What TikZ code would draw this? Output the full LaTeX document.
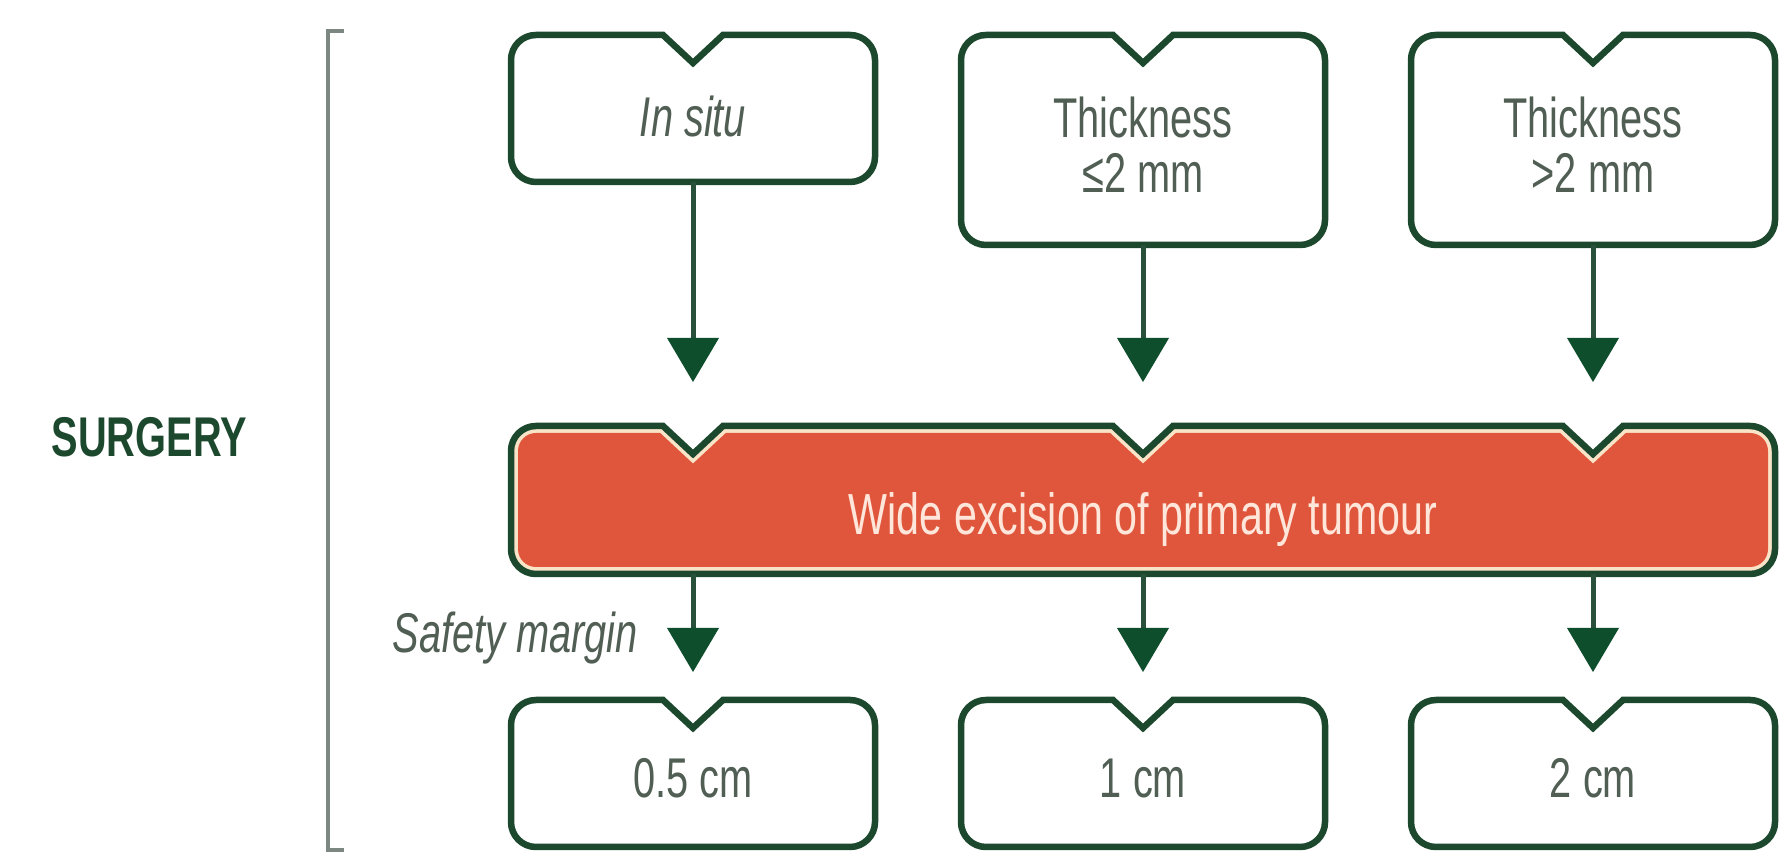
\documentclass[tikz,border=0pt]{standalone}
\usepackage{fontspec}
\setmainfont{Liberation Sans}[FakeStretch=0.71]
\usetikzlibrary{arrows.meta}
\definecolor{dgreen}{RGB}{28,72,45}
\definecolor{agreen}{RGB}{14,78,44}
\definecolor{stemc}{RGB}{40,80,58}
\definecolor{tgray}{RGB}{80,94,84}
\definecolor{redfill}{RGB}{224,86,60}
\definecolor{cream}{RGB}{250,228,200}
\definecolor{redtext}{RGB}{255,230,218}
\definecolor{brgray}{RGB}{125,135,130}
% notched rounded box path: L R T B radius halfwidth depth notches
\newcommand\nbpath[8]{(#1,#4+#5) -- (#1,#3-#5) arc[start angle=180,end angle=90,radius=#5pt]
  \foreach \nx in {#8} { -- (\nx-#6,#3) -- (\nx,#3-#7) -- (\nx+#6,#3) }
  -- (#2-#5,#3) arc[start angle=90,end angle=0,radius=#5pt]
  -- (#2,#4+#5) arc[start angle=0,end angle=-90,radius=#5pt]
  -- (#1+#5,#4) arc[start angle=-90,end angle=-180,radius=#5pt] -- cycle}
\tikzset{
  area/.style={draw=none, inner sep=0pt, outer sep=0pt, rectangle},
  boxline/.style={draw=dgreen, line width=6.5pt, fill=white, line join=miter},
  stem/.style={draw=stemc, line width=5pt, -{Triangle[width=52pt,length=44pt,line width=0pt,color=agreen]}},
  txt/.style={text=tgray, inner sep=0pt, font=\fontsize{56}{55}\selectfont},
  redtxt/.style={text=redtext, inner sep=0pt, font=\fontsize{58}{55}\selectfont},
  headtxt/.style={text=dgreen, inner sep=0pt, font=\fontsize{56}{55}\selectfont\bfseries},
  bracketline/.style={draw=brgray, line width=4pt},
}
\begin{document}
\begin{tikzpicture}[x=1pt,y=1pt]
\useasboundingbox (0,0) rectangle (1781,858);
\fill[white] (0,0) rectangle (1781,858);

% left label and bracket
\node[headtxt, anchor=base east] (surg) at (247,401) {SURGERY};
\draw[bracketline] (344,827) -- (328,827) -- (328,8) -- (344,8);

% top boxes
\draw[boxline] \nbpath{511}{875}{823}{676}{25}{30}{28}{693};
\draw[boxline] \nbpath{961}{1325}{823}{613}{25}{30}{28}{1143};
\draw[boxline] \nbpath{1411}{1775}{823}{613}{25}{30}{28}{1593};
\node[area, minimum width=364pt, minimum height=147pt] (b1) at (693,749.5) {};
\node[area, minimum width=364pt, minimum height=210pt] (b2) at (1143,718) {};
\node[area, minimum width=364pt, minimum height=210pt] (b3) at (1593,718) {};
\node[txt, anchor=base] (t1) at (693,721) {\itshape In situ};
\node[txt, align=center] (t2) at (1143,713) {Thickness\\≤2 mm};
\node[txt, align=center] (t3) at (1593,713) {Thickness\\>2 mm};

% central red box
\draw[draw=dgreen, line width=6.5pt, fill=cream, line join=miter] \nbpath{511}{1775}{432}{284}{25}{30}{28}{693,1143,1593};
\fill[redfill] \nbpath{518}{1768}{425}{291}{18}{32.8}{30.6}{693,1143,1593};
\node[area, minimum width=1264pt, minimum height=148pt] (rb) at (1143,358) {};
\node[redtxt, anchor=base] (rt) at (1143,323) {Wide excision of primary tumour};

% bottom boxes
\draw[boxline] \nbpath{511}{875}{158}{11}{25}{30}{28}{693};
\draw[boxline] \nbpath{961}{1325}{158}{11}{25}{30}{28}{1143};
\draw[boxline] \nbpath{1411}{1775}{158}{11}{25}{30}{28}{1593};
\node[area, minimum width=364pt, minimum height=147pt] (m1) at (693,84.5) {};
\node[area, minimum width=364pt, minimum height=147pt] (m2) at (1143,84.5) {};
\node[area, minimum width=364pt, minimum height=147pt] (m3) at (1593,84.5) {};
\node[txt, anchor=base] (u1) at (693,60) {0.5 cm};
\node[txt, anchor=base] (u2) at (1143,60) {1 cm};
\node[txt, anchor=base] (u3) at (1593,60) {2 cm};

\node[txt, anchor=base east] (sm) at (638,205) {\itshape Safety margin};

% arrow tips
\coordinate (h1) at (693,476);
\coordinate (h2) at (1143,476);
\coordinate (h3) at (1593,476);
\coordinate (h4) at (693,186);
\coordinate (h5) at (1143,186);
\coordinate (h6) at (1593,186);

\draw[stem] (b1.south) -- (h1);
\draw[stem] (b2.south) -- (h2);
\draw[stem] (b3.south) -- (h3);
\draw[stem] (rb.south -| b1.south) -- (h4);
\draw[stem] (rb.south -| b2.south) -- (h5);
\draw[stem] (rb.south -| b3.south) -- (h6);
\end{tikzpicture}
\end{document}
